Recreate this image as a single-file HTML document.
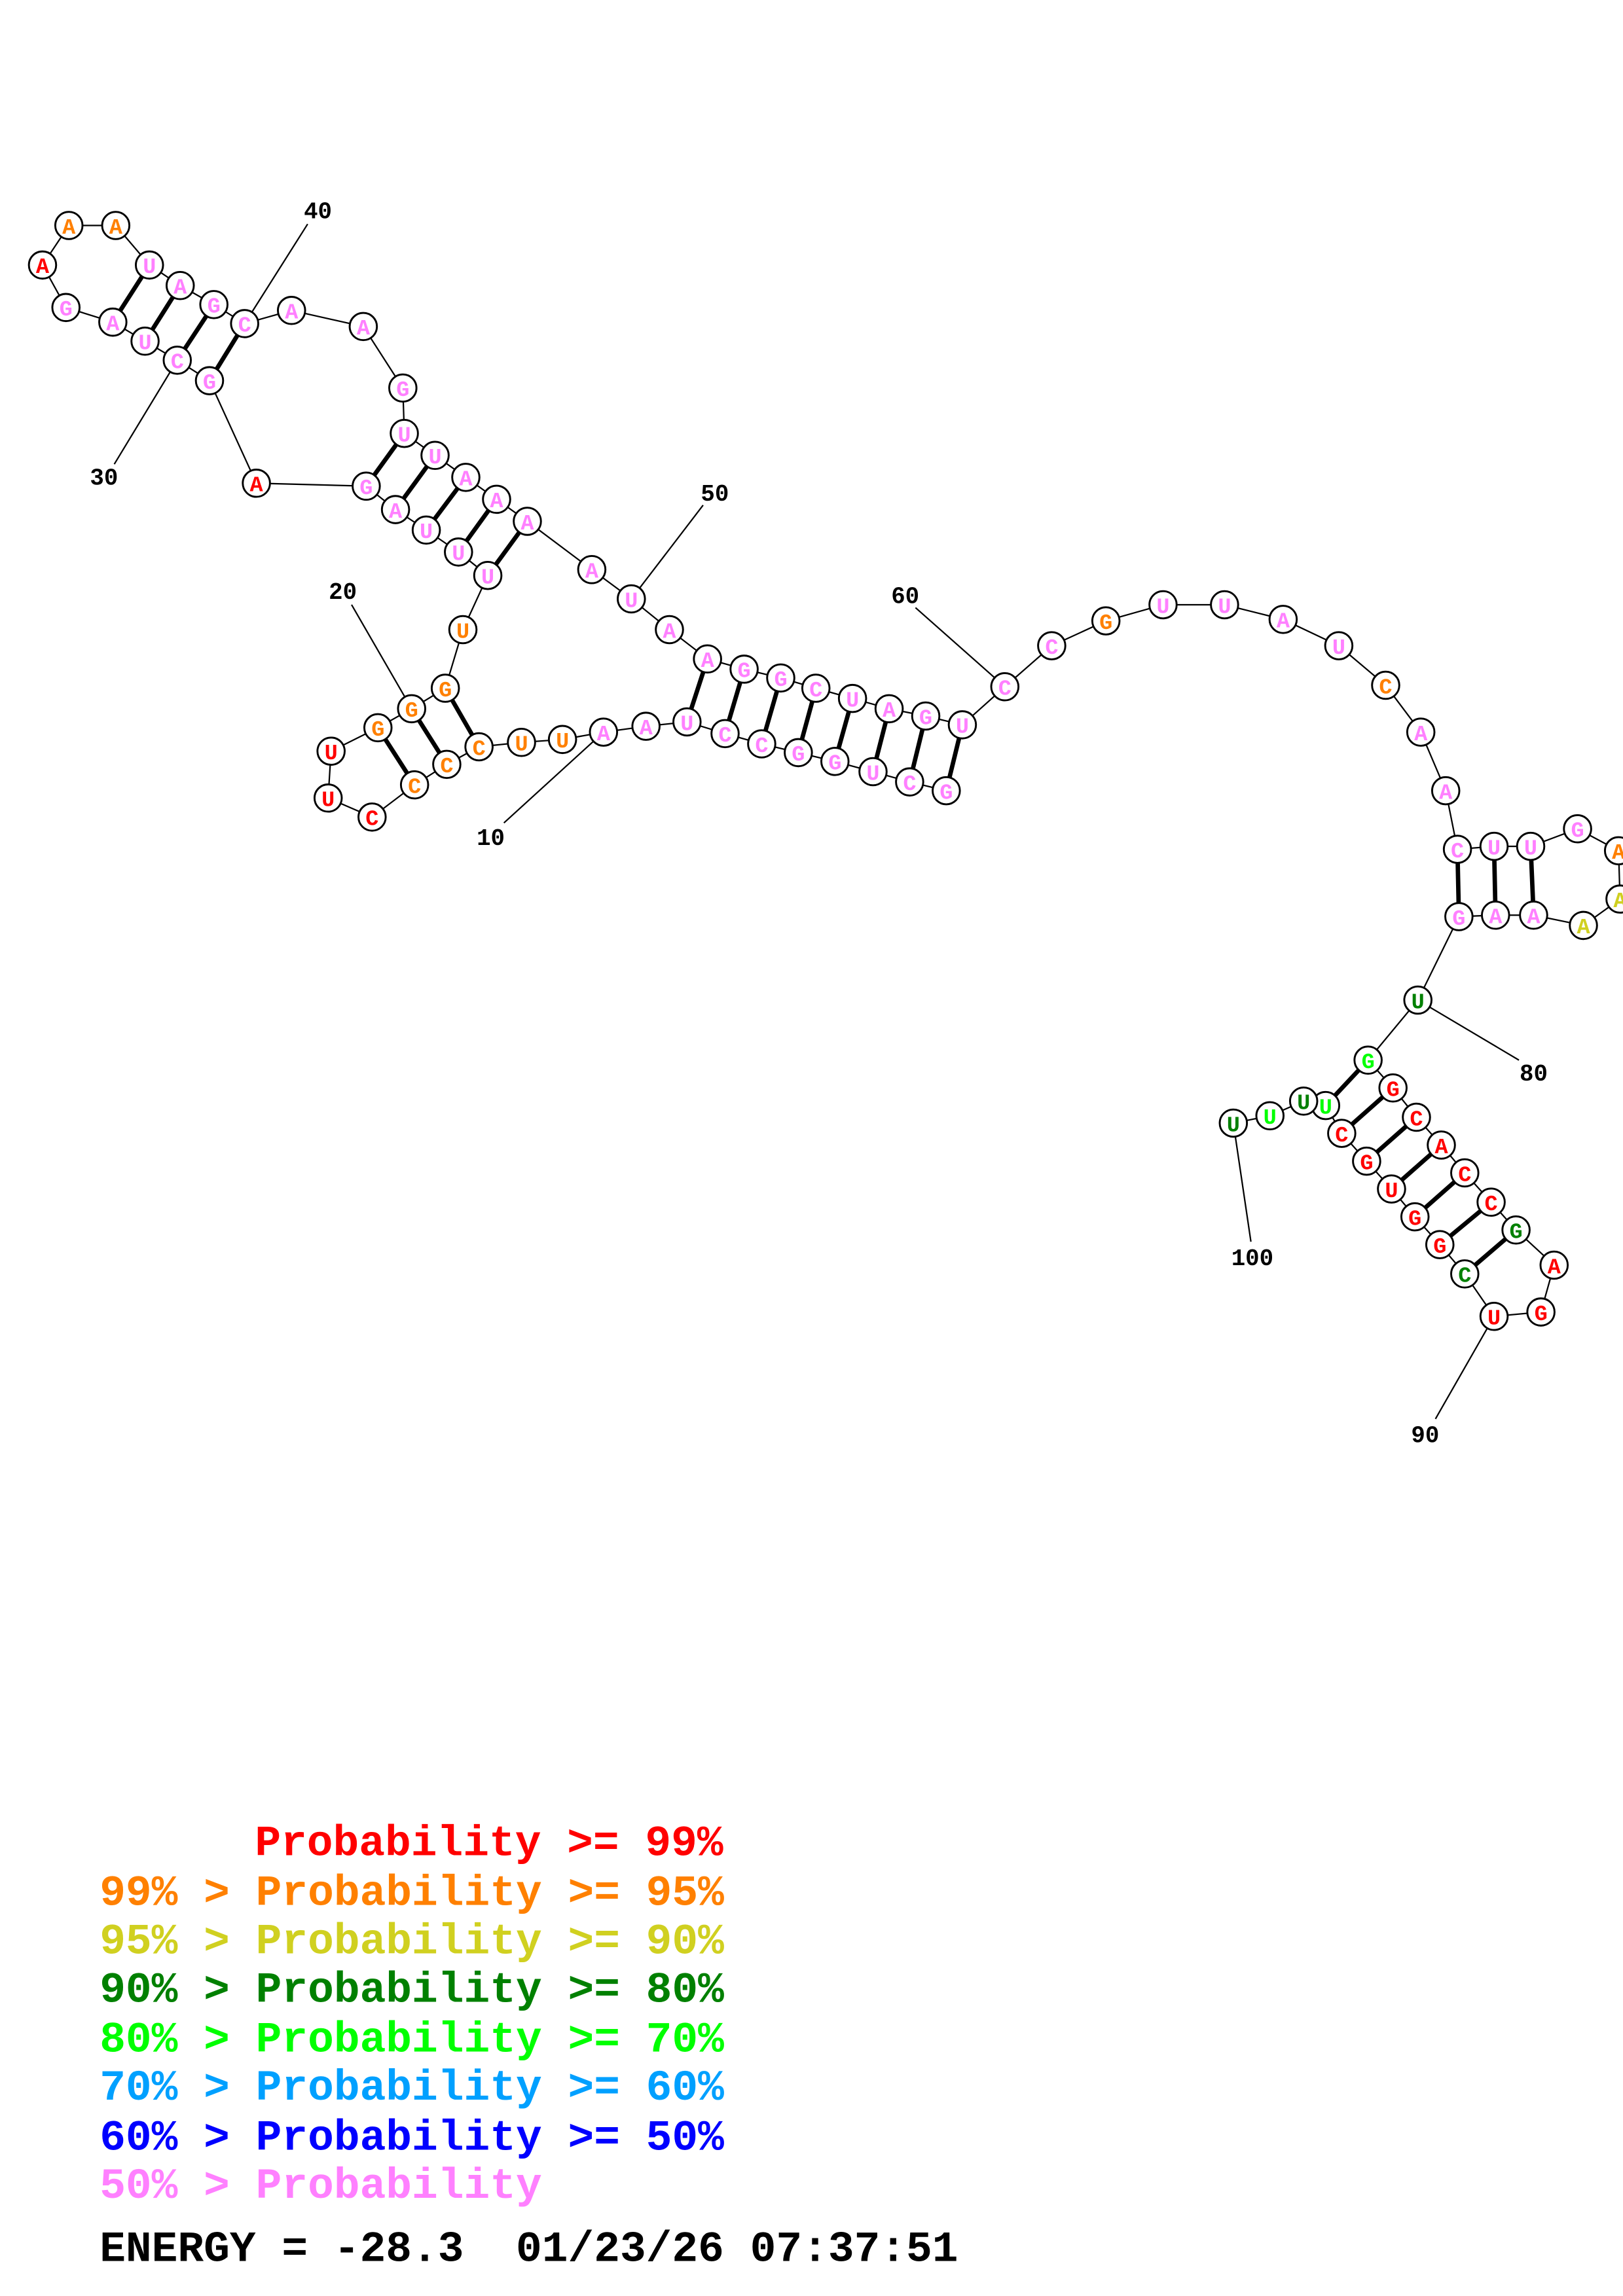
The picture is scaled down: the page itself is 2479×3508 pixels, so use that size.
<!DOCTYPE html>
<html><head><meta charset="utf-8"><style>
html,body{margin:0;padding:0;background:#fff;}
svg{display:block;}
.n circle{fill:#fff;stroke:#000;stroke-width:1.3}
.n text{font-family:"Liberation Mono",monospace;font-weight:bold;font-size:15px;text-anchor:middle}
.lb{font-family:"Liberation Mono",monospace;font-weight:bold;font-size:16px;text-anchor:middle;fill:#000}
.lg{font-family:"Liberation Mono",monospace;font-weight:bold;font-size:29.6px}
.p{fill:#ff80ff}.o{fill:#ff8000}.r{fill:#ff0000}.y{fill:#d0d020}.dg{fill:#008000}.g{fill:#00ff00}
</style></head><body>
<svg width="2479" height="3508" viewBox="0 0 1108 1568" xmlns="http://www.w3.org/2000/svg">
<rect width="1108" height="1568" fill="#fff"/>
<!-- label lines -->
<g stroke="#000" stroke-width="1">
<line x1="167" y1="221" x2="210" y2="153"/>
<line x1="121" y1="246" x2="78" y2="317"/>
<line x1="281" y1="484" x2="240" y2="413"/>
<line x1="412" y1="500" x2="344" y2="562"/>
<line x1="431" y1="409" x2="480" y2="345"/>
<line x1="686" y1="469" x2="625" y2="415"/>
<line x1="968" y1="683" x2="1037" y2="724"/>
<line x1="1020" y1="899" x2="980" y2="969"/>
<line x1="842" y1="767" x2="854" y2="848"/>
</g>
<!-- backbone -->
<polyline fill="none" stroke="#000" stroke-width="1" points="646,540 621,534 596,527 570,520 545,514 520,508 495,501 469,493 441,496 412,500 384,505 356,507 327,510 305,522 283,536 254,558 224,545 226,513 258,497 281,484 304,470 316,430 333,393 313,377 291,362 270,348 250,332 175,330 143,260 121,246 99,233 77,220 45,210 29,181 47,154 79,154 102,181 123,195 146,208 167,221 199,212 248,223 275,265 276,296 297,311 318,326 339,341 360,356 404,389 431,409 457,430 483,450 508,457 533,463 557,470 582,477 607,484 632,489 657,495 686,469 718,441 755,424 794,413 836,413 876,423 914,441 946,468 970,500 987,540 995,580 1020,578 1045,578 1077,566 1105,581 1106,614 1081,632 1047,625 1021,625 996,626 968,683 934,724 951,743 967,763 984,782 1000,801 1018,821 1035,840 1061,864 1052,896 1020,899 1000,870 983,850 966,831 950,812 933,793 916,774 905,755 890,752 867,762 842,767"/>
<!-- pairs -->
<g stroke="#000" stroke-width="3">
<line x1="646" y1="540" x2="657" y2="495"/><line x1="621" y1="534" x2="632" y2="489"/><line x1="596" y1="527" x2="607" y2="484"/><line x1="570" y1="520" x2="582" y2="477"/><line x1="545" y1="514" x2="557" y2="470"/><line x1="520" y1="508" x2="533" y2="463"/><line x1="495" y1="501" x2="508" y2="457"/><line x1="469" y1="493" x2="483" y2="450"/>
<line x1="327" y1="510" x2="304" y2="470"/><line x1="305" y1="522" x2="281" y2="484"/><line x1="283" y1="536" x2="258" y2="497"/>
<line x1="333" y1="393" x2="360" y2="356"/><line x1="313" y1="377" x2="339" y2="341"/><line x1="291" y1="362" x2="318" y2="326"/><line x1="270" y1="348" x2="297" y2="311"/><line x1="250" y1="332" x2="276" y2="296"/>
<line x1="143" y1="260" x2="167" y2="221"/><line x1="121" y1="246" x2="146" y2="208"/><line x1="99" y1="233" x2="123" y2="195"/><line x1="77" y1="220" x2="102" y2="181"/>
<line x1="995" y1="580" x2="996" y2="626"/><line x1="1020" y1="578" x2="1021" y2="625"/><line x1="1045" y1="578" x2="1047" y2="625"/>
<line x1="934" y1="724" x2="905" y2="755"/><line x1="951" y1="743" x2="916" y2="774"/><line x1="967" y1="763" x2="933" y2="793"/><line x1="984" y1="782" x2="950" y2="812"/><line x1="1000" y1="801" x2="966" y2="831"/><line x1="1018" y1="821" x2="983" y2="850"/><line x1="1035" y1="840" x2="1000" y2="870"/>
</g>
<!-- nodes -->
<g class="n">
<g><circle cx="646" cy="540" r="9.3"/><text x="646" y="545.5" class="p">G</text></g>
<g><circle cx="621" cy="534" r="9.3"/><text x="621" y="539.5" class="p">C</text></g>
<g><circle cx="596" cy="527" r="9.3"/><text x="596" y="532.5" class="p">U</text></g>
<g><circle cx="570" cy="520" r="9.3"/><text x="570" y="525.5" class="p">G</text></g>
<g><circle cx="545" cy="514" r="9.3"/><text x="545" y="519.5" class="p">G</text></g>
<g><circle cx="520" cy="508" r="9.3"/><text x="520" y="513.5" class="p">C</text></g>
<g><circle cx="495" cy="501" r="9.3"/><text x="495" y="506.5" class="p">C</text></g>
<g><circle cx="469" cy="493" r="9.3"/><text x="469" y="498.5" class="p">U</text></g>
<g><circle cx="441" cy="496" r="9.3"/><text x="441" y="501.5" class="p">A</text></g>
<g><circle cx="412" cy="500" r="9.3"/><text x="412" y="505.5" class="p">A</text></g>
<g><circle cx="384" cy="505" r="9.3"/><text x="384" y="510.5" class="o">U</text></g>
<g><circle cx="356" cy="507" r="9.3"/><text x="356" y="512.5" class="o">U</text></g>
<g><circle cx="327" cy="510" r="9.3"/><text x="327" y="515.5" class="o">C</text></g>
<g><circle cx="305" cy="522" r="9.3"/><text x="305" y="527.5" class="o">C</text></g>
<g><circle cx="283" cy="536" r="9.3"/><text x="283" y="541.5" class="o">C</text></g>
<g><circle cx="254" cy="558" r="9.3"/><text x="254" y="563.5" class="r">C</text></g>
<g><circle cx="224" cy="545" r="9.3"/><text x="224" y="550.5" class="r">U</text></g>
<g><circle cx="226" cy="513" r="9.3"/><text x="226" y="518.5" class="r">U</text></g>
<g><circle cx="258" cy="497" r="9.3"/><text x="258" y="502.5" class="o">G</text></g>
<g><circle cx="281" cy="484" r="9.3"/><text x="281" y="489.5" class="o">G</text></g>
<g><circle cx="304" cy="470" r="9.3"/><text x="304" y="475.5" class="o">G</text></g>
<g><circle cx="316" cy="430" r="9.3"/><text x="316" y="435.5" class="o">U</text></g>
<g><circle cx="333" cy="393" r="9.3"/><text x="333" y="398.5" class="p">U</text></g>
<g><circle cx="313" cy="377" r="9.3"/><text x="313" y="382.5" class="p">U</text></g>
<g><circle cx="291" cy="362" r="9.3"/><text x="291" y="367.5" class="p">U</text></g>
<g><circle cx="270" cy="348" r="9.3"/><text x="270" y="353.5" class="p">A</text></g>
<g><circle cx="250" cy="332" r="9.3"/><text x="250" y="337.5" class="p">G</text></g>
<g><circle cx="175" cy="330" r="9.3"/><text x="175" y="335.5" class="r">A</text></g>
<g><circle cx="143" cy="260" r="9.3"/><text x="143" y="265.5" class="p">G</text></g>
<g><circle cx="121" cy="246" r="9.3"/><text x="121" y="251.5" class="p">C</text></g>
<g><circle cx="99" cy="233" r="9.3"/><text x="99" y="238.5" class="p">U</text></g>
<g><circle cx="77" cy="220" r="9.3"/><text x="77" y="225.5" class="p">A</text></g>
<g><circle cx="45" cy="210" r="9.3"/><text x="45" y="215.5" class="p">G</text></g>
<g><circle cx="29" cy="181" r="9.3"/><text x="29" y="186.5" class="r">A</text></g>
<g><circle cx="47" cy="154" r="9.3"/><text x="47" y="159.5" class="o">A</text></g>
<g><circle cx="79" cy="154" r="9.3"/><text x="79" y="159.5" class="o">A</text></g>
<g><circle cx="102" cy="181" r="9.3"/><text x="102" y="186.5" class="p">U</text></g>
<g><circle cx="123" cy="195" r="9.3"/><text x="123" y="200.5" class="p">A</text></g>
<g><circle cx="146" cy="208" r="9.3"/><text x="146" y="213.5" class="p">G</text></g>
<g><circle cx="167" cy="221" r="9.3"/><text x="167" y="226.5" class="p">C</text></g>
<g><circle cx="199" cy="212" r="9.3"/><text x="199" y="217.5" class="p">A</text></g>
<g><circle cx="248" cy="223" r="9.3"/><text x="248" y="228.5" class="p">A</text></g>
<g><circle cx="275" cy="265" r="9.3"/><text x="275" y="270.5" class="p">G</text></g>
<g><circle cx="276" cy="296" r="9.3"/><text x="276" y="301.5" class="p">U</text></g>
<g><circle cx="297" cy="311" r="9.3"/><text x="297" y="316.5" class="p">U</text></g>
<g><circle cx="318" cy="326" r="9.3"/><text x="318" y="331.5" class="p">A</text></g>
<g><circle cx="339" cy="341" r="9.3"/><text x="339" y="346.5" class="p">A</text></g>
<g><circle cx="360" cy="356" r="9.3"/><text x="360" y="361.5" class="p">A</text></g>
<g><circle cx="404" cy="389" r="9.3"/><text x="404" y="394.5" class="p">A</text></g>
<g><circle cx="431" cy="409" r="9.3"/><text x="431" y="414.5" class="p">U</text></g>
<g><circle cx="457" cy="430" r="9.3"/><text x="457" y="435.5" class="p">A</text></g>
<g><circle cx="483" cy="450" r="9.3"/><text x="483" y="455.5" class="p">A</text></g>
<g><circle cx="508" cy="457" r="9.3"/><text x="508" y="462.5" class="p">G</text></g>
<g><circle cx="533" cy="463" r="9.3"/><text x="533" y="468.5" class="p">G</text></g>
<g><circle cx="557" cy="470" r="9.3"/><text x="557" y="475.5" class="p">C</text></g>
<g><circle cx="582" cy="477" r="9.3"/><text x="582" y="482.5" class="p">U</text></g>
<g><circle cx="607" cy="484" r="9.3"/><text x="607" y="489.5" class="p">A</text></g>
<g><circle cx="632" cy="489" r="9.3"/><text x="632" y="494.5" class="p">G</text></g>
<g><circle cx="657" cy="495" r="9.3"/><text x="657" y="500.5" class="p">U</text></g>
<g><circle cx="686" cy="469" r="9.3"/><text x="686" y="474.5" class="p">C</text></g>
<g><circle cx="718" cy="441" r="9.3"/><text x="718" y="446.5" class="p">C</text></g>
<g><circle cx="755" cy="424" r="9.3"/><text x="755" y="429.5" class="o">G</text></g>
<g><circle cx="794" cy="413" r="9.3"/><text x="794" y="418.5" class="p">U</text></g>
<g><circle cx="836" cy="413" r="9.3"/><text x="836" y="418.5" class="p">U</text></g>
<g><circle cx="876" cy="423" r="9.3"/><text x="876" y="428.5" class="p">A</text></g>
<g><circle cx="914" cy="441" r="9.3"/><text x="914" y="446.5" class="p">U</text></g>
<g><circle cx="946" cy="468" r="9.3"/><text x="946" y="473.5" class="o">C</text></g>
<g><circle cx="970" cy="500" r="9.3"/><text x="970" y="505.5" class="p">A</text></g>
<g><circle cx="987" cy="540" r="9.3"/><text x="987" y="545.5" class="p">A</text></g>
<g><circle cx="995" cy="580" r="9.3"/><text x="995" y="585.5" class="p">C</text></g>
<g><circle cx="1020" cy="578" r="9.3"/><text x="1020" y="583.5" class="p">U</text></g>
<g><circle cx="1045" cy="578" r="9.3"/><text x="1045" y="583.5" class="p">U</text></g>
<g><circle cx="1077" cy="566" r="9.3"/><text x="1077" y="571.5" class="p">G</text></g>
<g><circle cx="1105" cy="581" r="9.3"/><text x="1105" y="586.5" class="o">A</text></g>
<g><circle cx="1106" cy="614" r="9.3"/><text x="1106" y="619.5" class="y">A</text></g>
<g><circle cx="1081" cy="632" r="9.3"/><text x="1081" y="637.5" class="y">A</text></g>
<g><circle cx="1047" cy="625" r="9.3"/><text x="1047" y="630.5" class="p">A</text></g>
<g><circle cx="1021" cy="625" r="9.3"/><text x="1021" y="630.5" class="p">A</text></g>
<g><circle cx="996" cy="626" r="9.3"/><text x="996" y="631.5" class="p">G</text></g>
<g><circle cx="968" cy="683" r="9.3"/><text x="968" y="688.5" class="dg">U</text></g>
<g><circle cx="934" cy="724" r="9.3"/><text x="934" y="729.5" class="g">G</text></g>
<g><circle cx="951" cy="743" r="9.3"/><text x="951" y="748.5" class="r">G</text></g>
<g><circle cx="967" cy="763" r="9.3"/><text x="967" y="768.5" class="r">C</text></g>
<g><circle cx="984" cy="782" r="9.3"/><text x="984" y="787.5" class="r">A</text></g>
<g><circle cx="1000" cy="801" r="9.3"/><text x="1000" y="806.5" class="r">C</text></g>
<g><circle cx="1018" cy="821" r="9.3"/><text x="1018" y="826.5" class="r">C</text></g>
<g><circle cx="1035" cy="840" r="9.3"/><text x="1035" y="845.5" class="dg">G</text></g>
<g><circle cx="1061" cy="864" r="9.3"/><text x="1061" y="869.5" class="r">A</text></g>
<g><circle cx="1052" cy="896" r="9.3"/><text x="1052" y="901.5" class="r">G</text></g>
<g><circle cx="1020" cy="899" r="9.3"/><text x="1020" y="904.5" class="r">U</text></g>
<g><circle cx="1000" cy="870" r="9.3"/><text x="1000" y="875.5" class="dg">C</text></g>
<g><circle cx="983" cy="850" r="9.3"/><text x="983" y="855.5" class="r">G</text></g>
<g><circle cx="966" cy="831" r="9.3"/><text x="966" y="836.5" class="r">G</text></g>
<g><circle cx="950" cy="812" r="9.3"/><text x="950" y="817.5" class="r">U</text></g>
<g><circle cx="933" cy="793" r="9.3"/><text x="933" y="798.5" class="r">G</text></g>
<g><circle cx="916" cy="774" r="9.3"/><text x="916" y="779.5" class="r">C</text></g>
<g><circle cx="905" cy="755" r="9.3"/><text x="905" y="760.5" class="g">U</text></g>
<g><circle cx="890" cy="752" r="9.3"/><text x="890" y="757.5" class="dg">U</text></g>
<g><circle cx="867" cy="762" r="9.3"/><text x="867" y="767.5" class="g">U</text></g>
<g><circle cx="842" cy="767" r="9.3"/><text x="842" y="772.5" class="dg">U</text></g>
</g>
<!-- number labels -->
<text class="lb" x="217" y="149">40</text>
<text class="lb" x="71" y="331">30</text>
<text class="lb" x="234" y="409">20</text>
<text class="lb" x="335" y="577">10</text>
<text class="lb" x="488" y="342">50</text>
<text class="lb" x="618" y="412">60</text>
<text class="lb" x="1047" y="738">80</text>
<text class="lb" x="973" y="985">90</text>
<text class="lb" x="855" y="864">100</text>
<!-- legend -->
<g class="lg">
<text x="174" y="1267" fill="#ff0000">Probability &gt;= 99%</text>
<text x="68" y="1301" fill="#ff8000">99% &gt; Probability &gt;= 95%</text>
<text x="68" y="1334" fill="#d0d020">95% &gt; Probability &gt;= 90%</text>
<text x="68" y="1367" fill="#008000">90% &gt; Probability &gt;= 80%</text>
<text x="68" y="1401" fill="#00ff00">80% &gt; Probability &gt;= 70%</text>
<text x="68" y="1434" fill="#00a0ff">70% &gt; Probability &gt;= 60%</text>
<text x="68" y="1468" fill="#0000ff">60% &gt; Probability &gt;= 50%</text>
<text x="68" y="1501" fill="#ff80ff">50% &gt; Probability</text>
<text x="68" y="1544" fill="#000" xml:space="preserve">ENERGY = -28.3  01/23/26 07:37:51</text>
</g>
</svg>
</body></html>
